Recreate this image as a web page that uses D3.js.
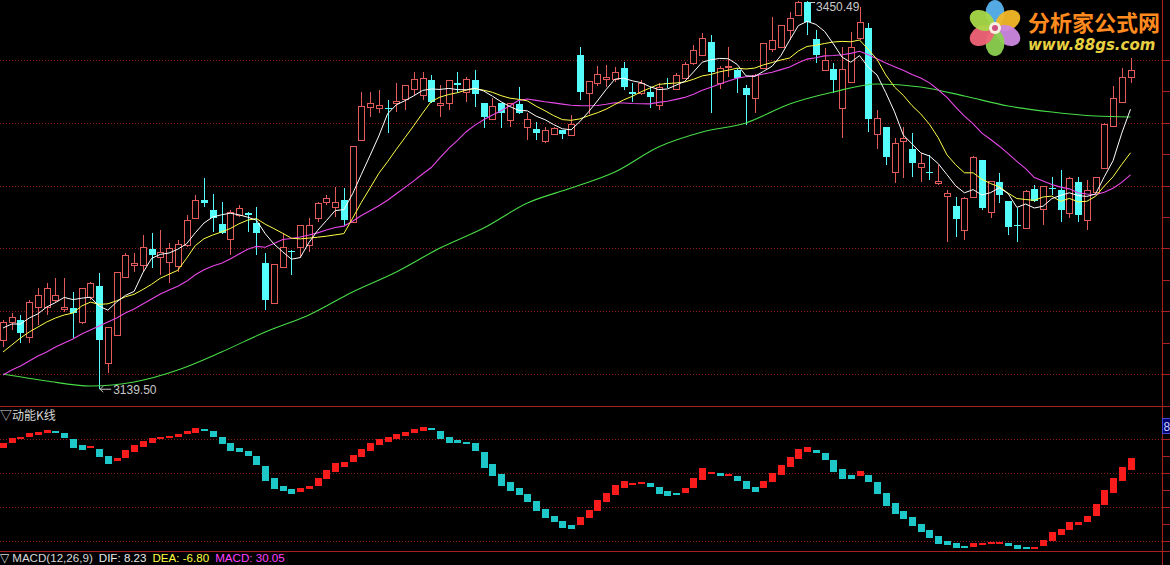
<!DOCTYPE html>
<html><head><meta charset="utf-8">
<script src="https://cdn.jsdelivr.net/npm/d3@7"></script>
<style>html,body{margin:0;padding:0;background:#000;overflow:hidden}svg{display:block}</style>
</head><body><svg id="c" width="1170" height="565"></svg>
<script>
// ---------- DATA ----------
const openP = [3178.9,3193.3,3194.9,3181.3,3205.3,3205.3,3210.9,3203.7,3204.5,3193.3,
3213.3,3222.1,3160.5,3182.9,3229.3,3238.9,3238.9,3251.7,3245.3,3241.3,
3238.1,3254.9,3276.5,3290.9,3282.9,3271.7,3259.7,3278.9,3280.5,3272.5,
3240.5,3208.5,3237.3,3250.1,3253.3,3254.9,3276.5,3289.3,3285.3,3290.9,
3273.3,3338.9,3365.3,3364.5,3364.5,3368.5,3371.7,3379.7,3374.9,3386.9,
3366.9,3368.5,3384.5,3377.3,3386.9,3368.5,3355.7,3368.5,3354.9,3367.7,
3349.3,3347.7,3338.1,3343.7,3346.9,3342.9,3406.9,3376.5,3384.5,3387.7,
3387.7,3396.5,3377.3,3376.5,3377.3,3366.9,3384.5,3379.7,3388.5,3400.5,
3406.9,3417.3,3384.5,3397.3,3394.9,3380.5,3372.5,3396.5,3411.7,3413.3,
3426.9,3438.9,3449.3,3419.7,3394.9,3395.7,3364.5,3385.3,3420.5,3428.5,
3343.7,3349.3,3313.3,3338.1,3331.7,3317.3,3313.3,3304.5,3294.1,3286.1,
3266.9,3293.3,3322.9,3281.3,3305.3,3290.1,3270.9,3268.5,3299.7,3283.7,
3300.5,3298.9,3280.5,3305.3,3274.9,3297.3,3316.5,3350.1,3369.3,3389.3];
const highP = [3194.9,3200.5,3198.9,3210.9,3220.5,3224.5,3228.5,3228.5,3217.3,3220.5,
3225.3,3232.5,3189.3,3233.3,3248.5,3248.5,3262.9,3264.5,3266.9,3256.5,
3258.9,3278.9,3294.9,3308.5,3295.7,3289.3,3282.9,3286.9,3281.3,3285.3,
3248.5,3239.7,3264.5,3250.9,3270.9,3276.5,3289.3,3294.9,3301.3,3300.5,
3334.1,3377.3,3377.3,3378.9,3370.9,3384.5,3382.9,3393.3,3393.3,3390.9,
3382.9,3386.9,3393.3,3389.3,3394.9,3368.5,3372.5,3368.5,3368.5,3381.3,
3360.5,3353.3,3349.3,3349.3,3346.9,3358.9,3413.3,3386.1,3398.1,3398.9,
3397.3,3401.3,3384.5,3386.9,3381.3,3384.5,3388.5,3392.5,3401.3,3414.9,
3424.5,3422.9,3398.1,3413.3,3396.5,3382.9,3391.7,3416.5,3437.3,3430.9,
3441.3,3450.1,3450.49,3426.9,3412.5,3400.5,3413.3,3425.3,3445.3,3432.5,
3362.9,3349.3,3340.5,3349.3,3344.5,3328.5,3326.9,3318.9,3298.9,3293.3,
3293.3,3326.1,3322.9,3306.1,3312.5,3290.1,3284.5,3298.9,3302.9,3302.1,
3309.3,3314.9,3309.3,3309.3,3306.9,3309.3,3352.5,3382.1,3396.5,3404.5];
const lowP = [3173.3,3186.9,3176.5,3176.5,3190.9,3198.9,3208.5,3201.3,3180.5,3191.7,
3210.9,3139.5,3152.5,3182.1,3228.5,3233.3,3233.3,3236.5,3230.9,3224.5,
3233.3,3253.3,3275.7,3285.3,3265.3,3263.7,3246.9,3277.3,3265.3,3246.9,
3202.9,3207.7,3236.5,3230.9,3244.5,3249.3,3273.3,3286.9,3277.3,3270.9,
3272.5,3338.1,3357.3,3360.5,3344.5,3361.3,3362.9,3374.9,3370.9,3368.5,
3357.3,3362.9,3376.5,3369.3,3365.3,3348.5,3354.9,3348.5,3349.3,3359.7,
3338.9,3338.9,3336.5,3342.9,3339.7,3342.1,3370.9,3359.7,3382.1,3381.3,
3385.3,3378.9,3369.3,3374.9,3364.5,3362.9,3380.5,3378.9,3387.7,3398.9,
3406.1,3360.5,3379.7,3389.3,3376.5,3350.9,3360.5,3395.7,3409.3,3412.5,
3418.9,3438.1,3422.9,3400.5,3394.1,3376.5,3340.5,3384.5,3418.9,3345.3,
3331.7,3318.9,3304.5,3308.5,3309.3,3305.3,3306.9,3302.9,3257.3,3261.3,
3258.9,3292.5,3282.9,3276.5,3288.5,3262.9,3257.3,3267.7,3289.3,3270.9,
3294.9,3273.3,3276.5,3273.3,3266.9,3296.5,3315.7,3349.3,3368.5,3384.5];
const closeP = [3193.3,3197.3,3184.5,3209.3,3214.9,3220.5,3214.9,3205.3,3200.5,3220.5,
3224.5,3178.9,3189.3,3233.3,3246.9,3240.5,3253.3,3246.9,3249.3,3252.5,
3255.7,3274.9,3290.9,3288.5,3276.5,3264.5,3281.3,3284.5,3278.9,3264.5,
3210.9,3239.7,3253.3,3249.3,3270.9,3270.9,3288.5,3292.5,3289.3,3274.9,
3334.1,3366.1,3368.5,3366.9,3363.7,3370.1,3382.9,3387.7,3388.5,3369.3,
3368.5,3386.9,3382.9,3387.7,3375.7,3357.3,3366.1,3360.5,3368.5,3360.5,
3355.7,3344.5,3346.9,3348.5,3343.7,3351.7,3377.3,3386.1,3391.7,3389.3,
3393.3,3381.3,3375.7,3384.5,3373.3,3381.3,3383.7,3390.9,3399.7,3410.9,
3420.5,3393.3,3396.5,3398.1,3388.5,3374.9,3390.9,3416.5,3418.9,3430.9,
3436.5,3449.3,3433.3,3406.9,3402.9,3386.9,3395.7,3413.3,3433.3,3355.7,
3356.5,3325.3,3336.5,3340.5,3320.5,3320.5,3312.5,3306.1,3296.5,3275.7,
3292.5,3325.3,3284.5,3306.1,3294.9,3269.3,3270.1,3298.1,3290.1,3302.1,
3299.7,3282.9,3308.5,3278.9,3298.9,3309.3,3351.7,3372.5,3389.3,3394.9];

// moving-average values for the first days (window starts before the visible range)
const ma5Lead  = [3188.5,3191.7,3191.7,3196.5];
const ma10Lead = [3169.3,3174.9,3180.5,3185.3,3189.3,3193.3,3196.5,3198.9,3200.5];
const ma20Lead = [3150.9,3154.9,3158.1,3162.1,3166.1,3169.3,3173.3,3176.5,3179.7,3183.7,
                  3186.9,3190.1,3193.3,3196.5,3200.5,3203.7,3207.7,3211.7,3215.7];
// long moving average (green) read at every 5th day
const maLongIdx = [0,5,10,15,20,25,30,35,40,45,50,55,60,65,70,75,80,85,90,95,100,105,110,115,120,125,129];
const maLongVal = [3151.7,3146.1,3142.1,3145.3,3154.9,3169.3,3185.3,3198.9,3217.3,3233.3,3252.5,3268.5,3288.5,3300.5,
                   3313.3,3333.3,3345.3,3352.5,3367.7,3377.3,3383.7,3381.3,3374.1,3366.1,3361.3,3358.1,3357.3];
const priceGrid = [3402.9,3352.7,3302.4,3252.2,3201.9,3151.7];

// momentum K-line (动能K线) open / close
const kOpen = [14.7,17.6,20.0,21.2,22.3,23.5,24.7,23.5,20.0,16.4,
14.7,14.1,10.0,7.0,8.8,12.3,15.3,17.6,20.0,20.6,
21.2,22.9,23.5,25.9,24.7,21.2,17.6,14.7,12.9,10.0,
4.1,-3.0,-7.7,-9.4,-11.2,-9.4,-7.7,-3.5,0.6,3.5,
6.4,9.4,12.9,16.4,18.2,20.0,21.7,23.5,24.7,26.5,
24.7,21.2,19.4,18.2,17.6,12.3,5.3,-0.6,-5.3,-8.8,
-12.4,-16.5,-21.2,-25.3,-28.3,-30.6,-30.6,-26.5,-22.4,-17.1,
-13.0,-8.8,-7.1,-5.9,-5.9,-8.3,-10.6,-11.8,-11.8,-8.8,
-4.1,-0.6,0.0,-1.2,-1.8,-4.7,-8.3,-8.8,-5.3,-1.2,
3.5,8.2,12.3,13.5,11.7,7.6,2.3,-1.2,-1.8,-1.2,
-5.3,-11.8,-17.7,-22.4,-25.9,-30.0,-33.6,-37.1,-40.0,-41.2,
-43.0,-43.6,-42.4,-41.8,-41.2,-41.2,-42.4,-43.6,-44.1,-43.0,
-40.0,-36.5,-33.6,-30.6,-28.9,-25.3,-18.8,-11.8,-4.7,1.7];
const kClose = [17.6,20.6,21.2,23.5,24.1,25.3,24.1,20.6,14.7,13.5,
15.9,9.4,5.3,8.8,13.5,16.4,18.8,20.6,21.2,21.7,
22.9,24.7,26.5,24.7,21.2,17.0,12.9,12.3,10.0,4.7,
-4.7,-9.4,-10.6,-12.4,-8.8,-7.7,-3.0,1.7,5.9,6.4,
10.6,14.1,17.6,20.0,21.2,22.9,24.1,25.9,27.0,25.9,
20.0,17.6,17.6,17.6,12.9,2.9,-1.8,-7.7,-10.6,-13.0,
-17.1,-22.4,-26.5,-28.9,-32.4,-33.0,-25.9,-21.8,-15.9,-11.8,
-7.1,-4.7,-5.9,-5.3,-8.3,-12.4,-13.6,-13.0,-8.8,-3.0,
2.9,0.6,-1.8,-0.6,-4.7,-9.4,-11.2,-4.7,0.0,4.7,
9.4,14.1,15.3,11.7,7.6,0.6,-3.5,-3.5,1.2,-5.3,
-12.4,-19.4,-24.1,-27.1,-31.2,-34.7,-38.3,-41.8,-42.4,-44.1,
-44.1,-41.2,-41.2,-40.6,-40.6,-43.0,-44.7,-44.7,-43.6,-39.4,
-34.7,-33.0,-28.9,-28.9,-25.3,-18.3,-10.0,-3.0,3.5,8.8];
const kGrid = [20,0,-20,-40];
const kMinor = [10,-10,-30];
const highLabel = "3450.49", lowLabel = "3139.50";
const macdText = [["▽ MACD(12,26,9)","#d8d8d8"],["DIF: 8.23","#e8e8e8"],["DEA: -6.80","#ffff40"],["MACD: 30.05","#ff40ff"]];
const boxLabel = "8";

// ---------- DRAW ----------
const svg = d3.select('#c');
svg.append('rect').attr('width',1170).attr('height',565).attr('fill','#000');
const AXX = 1162.5;
const x = d3.scaleLinear().domain([0,129]).range([3,1130.5]);
const yP = d3.scaleLinear().domain([3126.9,3450.9]).range([405,0]);
const yM = d3.scaleLinear().domain([-45.9,38.8]).range([551,407]);
const RED='#e25a5a', CYAN='#54fcfc', GRID='#8c1c1c', BORDER='#a82020';
const FONT='Liberation Sans, Arial, sans-serif';

const defs = svg.append('defs');
defs.append('clipPath').attr('id','mainClip').append('rect').attr('x',0).attr('y',0).attr('width',AXX).attr('height',406);
defs.append('clipPath').attr('id','subClip').append('rect').attr('x',0).attr('y',407).attr('width',AXX).attr('height',144);

// grid lines
svg.append('g').selectAll('line').data(priceGrid).join('line')
  .attr('x1',0).attr('x2',AXX).attr('y1',d=>Math.round(yP(d))+0.5).attr('y2',d=>Math.round(yP(d))+0.5)
  .attr('stroke',GRID).attr('stroke-dasharray','1,2');
svg.append('g').selectAll('line').data(kGrid).join('line')
  .attr('x1',0).attr('x2',AXX).attr('y1',d=>Math.round(yM(d))+0.5).attr('y2',d=>Math.round(yM(d))+0.5)
  .attr('stroke',GRID).attr('stroke-dasharray','1,2');

// borders
[406.5,551.5].forEach(yy=>svg.append('line').attr('x1',0).attr('x2',1170).attr('y1',yy).attr('y2',yy).attr('stroke',BORDER));
svg.append('line').attr('x1',AXX).attr('x2',AXX).attr('y1',0).attr('y2',565).attr('stroke',BORDER);
// right axis ticks
const mids = d3.pairs(priceGrid).map(p=>(p[0]+p[1])/2);
const mainTicks = priceGrid.concat(mids);
svg.append('g').selectAll('line').data(mainTicks).join('line')
  .attr('x1',AXX).attr('x2',1170).attr('y1',d=>Math.round(yP(d))+0.5).attr('y2',d=>Math.round(yP(d))+0.5).attr('stroke',BORDER);
svg.append('g').selectAll('line').data(kGrid.concat(kMinor)).join('line')
  .attr('x1',AXX).attr('x2',1170).attr('y1',d=>Math.round(yM(d))+0.5).attr('y2',d=>Math.round(yM(d))+0.5).attr('stroke',BORDER);

// candles
const candles = closeP.map((c,i)=>({i,o:openP[i],h:highP[i],l:lowP[i],c}));
const gC = svg.append('g').attr('clip-path','url(#mainClip)');
candles.forEach(d=>{
  const cx = Math.round(x(d.i));
  const up = d.c >= d.o;
  const yT = Math.round(yP(Math.max(d.o,d.c))), yB = Math.round(yP(Math.min(d.o,d.c)));
  const yH = Math.round(yP(d.h)), yL = Math.round(yP(d.l));
  if (up) {
    if (yT > yH) gC.append('line').attr('x1',cx+0.5).attr('x2',cx+0.5).attr('y1',yH).attr('y2',yT).attr('stroke',RED);
    if (yL > yB) gC.append('line').attr('x1',cx+0.5).attr('x2',cx+0.5).attr('y1',yB+1).attr('y2',yL).attr('stroke',RED);
    gC.append('rect').attr('x',cx-2.5).attr('y',yT+0.5).attr('width',6).attr('height',Math.max(1,yB-yT))
      .attr('fill','#000').attr('stroke',RED);
  } else {
    gC.append('line').attr('x1',cx+0.5).attr('x2',cx+0.5).attr('y1',yH).attr('y2',yL).attr('stroke',CYAN);
    gC.append('rect').attr('x',cx-3).attr('y',yT).attr('width',7).attr('height',Math.max(1,yB-yT)).attr('fill',CYAN);
  }
});

// moving averages
function ma(lead,n){ return closeP.map((c,i)=> i<n-1 ? lead[i] : d3.mean(closeP.slice(i-n+1,i+1))); }
const line = d3.line().x((d,i)=>x(i)).y(d=>yP(d));
const gL = svg.append('g').attr('clip-path','url(#mainClip)').attr('fill','none');
gL.append('path').attr('d',d3.line().x(d=>x(d[0])).y(d=>yP(d[1])).curve(d3.curveMonotoneX)(d3.zip(maLongIdx,maLongVal)))
  .attr('stroke','#48dc48').attr('stroke-width',1.1);
gL.append('path').attr('d',line(ma(ma20Lead,20))).attr('stroke','#e848e8').attr('stroke-width',1.1);
gL.append('path').attr('d',line(ma(ma10Lead,10))).attr('stroke','#ffff48').attr('stroke-width',1);
gL.append('path').attr('d',line(ma(ma5Lead,5))).attr('stroke','#ffffff').attr('stroke-width',1);

// high / low labels
const iHigh = d3.maxIndex(highP), iLow = d3.minIndex(lowP);
const hx = x(iHigh), hy = yP(highP[iHigh]);
svg.append('line').attr('x1',hx+3).attr('x2',hx+8).attr('y1',hy+2).attr('y2',hy+2).attr('stroke','#c8c8c8');
svg.append('text').attr('x',hx+9).attr('y',hy+10).text(highLabel)
  .attr('fill','#c8c8c8').attr('font-family',FONT).attr('font-size',12);
const lx = x(iLow), ly = yP(lowP[iLow]);
svg.append('path').attr('d',`M${lx+1},${ly} L${lx+12},${ly} M${lx+1},${ly} L${lx+4},${ly-3} M${lx+1},${ly} L${lx+4},${ly+3}`)
  .attr('stroke','#c8c8c8').attr('fill','none');
svg.append('text').attr('x',lx+14).attr('y',ly+5).text(lowLabel)
  .attr('fill','#c8c8c8').attr('font-family',FONT).attr('font-size',12);

// momentum K-line bars
const gK = svg.append('g').attr('clip-path','url(#subClip)');
kClose.forEach((c,i)=>{
  const o = kOpen[i];
  const y1 = Math.round(yM(Math.max(o,c))), y2 = Math.round(yM(Math.min(o,c)));
  gK.append('rect').attr('x',Math.round(x(i))-3).attr('y',y1).attr('width',7).attr('height',Math.max(2,y2-y1))
    .attr('fill', c>o ? '#fa1c1c' : '#1ec8c8');
});

// sub-panel titles
svg.append('text').attr('x',0).attr('y',420).text('▽动能K线')
  .attr('fill','#d8d8d8').attr('font-family','Noto Sans CJK SC, sans-serif').attr('font-size',12);
let tx = 0;
macdText.forEach(t=>{
  const el = svg.append('text').attr('x',tx).attr('y',562).text(t[0]).attr('fill',t[1])
    .attr('font-family',FONT).attr('font-size',11.6);
  tx += el.node().getComputedTextLength() + 6;
});

// right value box
svg.append('rect').attr('x',AXX).attr('y',418.5).attr('width',9).attr('height',15).attr('fill','#000070').attr('stroke','#4a4ad0');
svg.append('text').attr('x',AXX+1).attr('y',431).text(boxLabel).attr('fill','#c8d0ff')
  .attr('font-family',FONT).attr('font-size',12);

// logo
const logo = svg.append('g').attr('transform','translate(995,28)');
const petals = [['#58b4f0',-90],['#f2b828',-30],['#cc88e0',30],['#8cd050',90],['#f06478',150],['#a8d848',210]];
petals.forEach(p=>{
  logo.append('ellipse').attr('cx',0).attr('cy',-15).attr('rx',9.5).attr('ry',13)
    .attr('transform',`rotate(${p[1]+90})`).attr('fill',p[0]).attr('opacity',0.95);
});
logo.append('circle').attr('r',6).attr('fill','#f8f0e0');
logo.append('circle').attr('r',3).attr('fill','#d05080');
svg.append('text').attr('x',1028).attr('y',31).text('分析家公式网')
  .attr('fill','#ff8a1e').attr('font-family','Noto Sans CJK SC, sans-serif').attr('font-weight','bold').attr('font-size',22);
svg.append('text').attr('x',1028).attr('y',50).text('www.88gs.com')
  .attr('fill','#e8d040').attr('font-family','DejaVu Sans, sans-serif').attr('font-weight','bold').attr('font-style','italic').attr('font-size',15);
</script>
</body></html>
